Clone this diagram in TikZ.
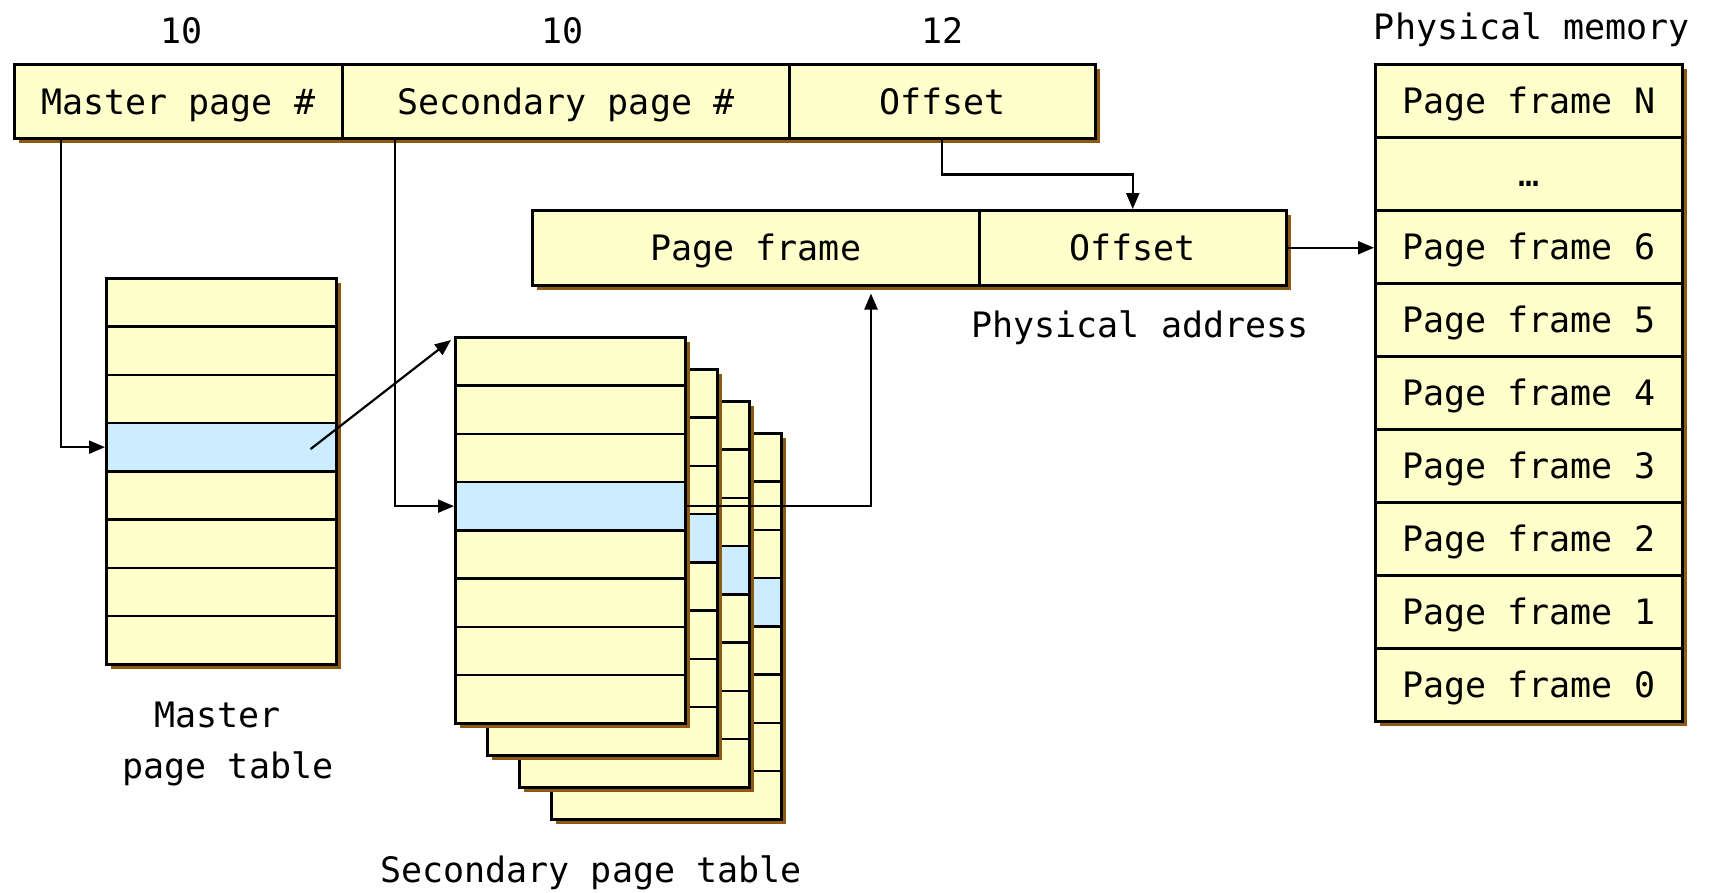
\documentclass[tikz,border=0pt]{standalone}
\usepackage{fontspec}
\setmonofont{DejaVu Sans Mono}
\usetikzlibrary{arrows.meta,calc}
\definecolor{cellyellow}{RGB}{255,255,204}
\definecolor{cellblue}{RGB}{204,236,255}
\definecolor{shadowbrown}{RGB}{140,90,20}
\tikzset{
  lbl/.style={font=\fontsize{35}{51}\selectfont\ttfamily, inner sep=0pt},
  cell/.style={draw, line width=2.5pt, fill=cellyellow, inner sep=0pt, anchor=north west,
    font=\fontsize{35}{42}\selectfont\ttfamily, text height=30pt, text depth=4.4pt},
  tcell/.style={cell, minimum width=230pt, minimum height=48.25pt},
  shade/.style={fill=shadowbrown},
  conn/.style={line width=2.2pt, -{Triangle[length=16pt,width=13pt]}},
}
\newcommand{\pagetable}[3]{%
  \fill[shade] (#2+6,#3+6) rectangle (#2+236,#3+392);
  \foreach \i in {0,...,7}{%
    \pgfmathsetmacro\yy{#3+\i*48.25}%
    \ifnum\i=3
      \node[tcell, fill=cellblue] (#1-\i) at (#2,\yy) {};
    \else
      \node[tcell] (#1-\i) at (#2,\yy) {};
    \fi
  }%
}
\begin{document}
\begin{tikzpicture}[x=1pt,y=-1pt]
\useasboundingbox (0,0) rectangle (1710,892);

% virtual address
\fill[shade] (19,69) rectangle (1100,143);
\node[cell, minimum width=328pt, minimum height=74pt] (mpn) at (13,63) {Master page \#};
\node[cell, minimum width=447pt, minimum height=74pt] (spn) at (341,63) {Secondary page \#};
\node[cell, minimum width=306pt, minimum height=74pt] (off) at (788,63) {Offset};
\node[lbl] (b1) at ($(mpn.north)+(3,-32)$) {10};
\node[lbl] (b2) at ($(spn.north)+(-3,-32)$) {10};
\node[lbl] (b3) at ($(off.north)+(0,-32)$) {12};

% physical address
\fill[shade] (537,215) rectangle (1291,290);
\node[cell, minimum width=447pt, minimum height=75pt] (pf) at (531,209) {Page frame};
\node[cell, minimum width=307pt, minimum height=75pt] (poff) at (978,209) {Offset};
\node[lbl] (palbl) at (1140,328) {Physical address};

% physical memory
\fill[shade] (1380,69) rectangle (1687,726);
\foreach \t [count=\k from 0] in {Page frame N,…,Page frame 6,Page frame 5,Page frame 4,Page frame 3,Page frame 2,Page frame 1,Page frame 0}{
  \node[cell, minimum width=307pt, minimum height=73pt] (pm-\k) at (1374,63+\k*73) {\t};
}
\node[lbl] (pmlbl) at (1532,30) {Physical memory};

% master page table
\pagetable{mt}{105}{277}
\node[lbl, align=center] (mtlbl) at (228,744) {Master\hphantom{x}\\page table};

% secondary page tables (back to front)
\pagetable{st3}{550}{432}
\pagetable{st2}{518}{400}
\pagetable{st1}{486}{368}
\pagetable{st0}{454}{336}
\node[lbl] (stlbl) at (591,873) {Secondary page table};

% connectors
\draw[conn] ($(mpn.south west)+(48,0)$) |- (mt-3.west);
\draw[conn] ($(spn.south west)+(54,0)$) |- (st0-3.west);
\draw[conn] (off.south) -- ++(0,35) -| (poff.north);
\draw[conn] (poff.east) -- (poff.east -| pm-2.west);
\draw[conn] ($(mt-3.east)+(-27,2)$) -- ($(st0-0.north west)+(-3,4)$);
\coordinate (pfin) at ($(pf.south west)+(340,7)$);
\draw[conn] (st0-3.east) -| (pfin);
\end{tikzpicture}
\end{document}
